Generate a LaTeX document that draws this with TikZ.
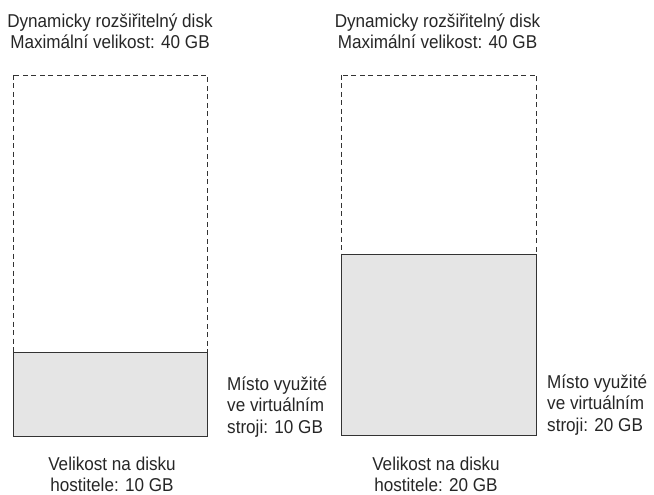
\documentclass[tikz,border=0pt]{standalone}
\usepackage{fontspec}
\setmainfont{Liberation Sans}[FakeStretch=0.92]
\begin{document}
\begin{tikzpicture}[x=1pt,y=-1pt,
  lbl/.style={inner sep=0pt,font=\fontsize{18.6}{21.2}\selectfont,text=black!85},
  usedfill/.style={fill=black!10,draw=black!80,line width=0.8pt},
  maxbox/.style={draw=black!80,line width=0.8pt,dash pattern=on 5pt off 3.5pt}]
\useasboundingbox (0,0) rectangle (654,495);
% left disk
\coordinate (l1) at (13,75);
\coordinate (l2) at (207.5,436);
\coordinate (lg) at (13,352.5);
\draw[maxbox] (l1) rectangle (l2);
\draw[usedfill] (lg) rectangle (l2);
% right disk
\coordinate (r1) at (341.5,75);
\coordinate (r2) at (536.5,435.5);
\coordinate (rg) at (341.5,254.5);
\draw[maxbox] (r1) rectangle (r2);
\draw[usedfill] (rg) rectangle (r2);
% labels
\node[lbl,align=center] (lt) at (110,31) {Dynamicky rozšiřitelný disk\\Maximální velikost: 40 GB};
\node[lbl,align=center] (rt) at (437.5,31) {Dynamicky rozšiřitelný disk\\Maximální velikost: 40 GB};
\node[lbl,align=left,anchor=west] (ls) at (227,407) {Místo využité\\ve virtuálním\\stroji: 10 GB};
\node[lbl,align=left,anchor=west] (rs) at (547,405) {Místo využité\\ve virtuálním\\stroji: 20 GB};
\node[lbl,align=center] (lb) at (112,474.5) {Velikost na disku\\hostitele: 10 GB};
\node[lbl,align=center] (rb) at (436,474.5) {Velikost na disku\\hostitele: 20 GB};
\end{tikzpicture}
\end{document}
